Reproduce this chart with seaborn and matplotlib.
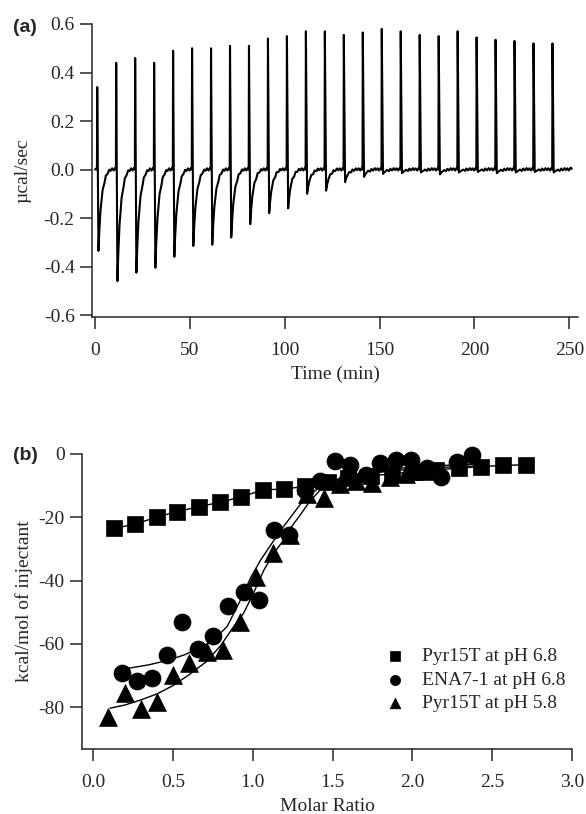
import numpy as np
import pandas as pd
import matplotlib
matplotlib.use("Agg")
import matplotlib.pyplot as plt
import seaborn as sns

# ---------------- panel (a): raw ITC thermogram ----------------
inj_time = [1, 11, 21, 31, 41, 51, 61, 71, 81, 91, 101, 111, 121, 131, 141,
            151, 161, 171, 181, 191, 201, 211, 221, 231, 241]
spike_top = [0.34, 0.44, 0.46, 0.44, 0.49, 0.50, 0.50, 0.51, 0.51, 0.54, 0.55,
             0.57, 0.57, 0.555, 0.565, 0.58, 0.57, 0.555, 0.55, 0.57, 0.545,
             0.535, 0.53, 0.52, 0.52]
dip_min = [-0.335, -0.46, -0.425, -0.405, -0.36, -0.315, -0.31, -0.28, -0.225,
           -0.18, -0.16, -0.10, -0.087, -0.052, -0.03, -0.018, -0.015, -0.012,
           -0.02, -0.012, -0.01, -0.015, -0.012, -0.01, -0.012]
# shape of one peak after the injection (min after injection, fraction of dip, baseline wiggle)
prof_off = [0.8, 1.3, 1.9, 3.0, 4.0, 4.7, 5.6, 6.5, 7.2, 8.0, 8.8, 9.4, 9.8]
prof_frac = [1.0, 0.74, 0.50, 0.26, 0.15, 0.09, 0.045, 0.02, 0.01, 0.0, 0.0, 0.0, 0.0]
prof_noise = [0, 0, 0, 0.003, -0.004, 0.005, -0.003, 0.006, -0.002, 0.005, -0.004, 0.004, 0.008]

# ---------------- panel (b): integrated heats ----------------
sq_x = [0.13, 0.263, 0.40, 0.525, 0.661, 0.797, 0.928, 1.065, 1.194, 1.33,
        1.47, 1.60, 1.74, 1.87, 2.01, 2.15, 2.29, 2.43, 2.57, 2.71]
sq_y = [-23.5, -22.2, -19.9, -18.2, -16.7, -15.2, -13.6, -11.3, -11.1, -10.2,
        -9.0, -7.5, -6.9, -6.3, -5.6, -5.0, -4.5, -4.0, -3.6, -3.4]

ci_x = [0.18, 0.275, 0.37, 0.466, 0.56, 0.657, 0.753, 0.848, 0.944, 1.04,
        1.135, 1.23, 1.326, 1.42, 1.517, 1.61, 1.708, 1.80, 1.90, 1.99,
        2.09, 2.18, 2.28, 2.376]
ci_y = [-69.1, -71.7, -70.9, -63.5, -53.0, -61.6, -57.6, -48.0, -43.5, -46.1,
        -24.0, -25.5, -11.4, -8.5, -2.2, -3.5, -6.5, -2.9, -1.9, -1.9,
        -4.5, -7.2, -2.4, -0.3]

tr_x = [0.096, 0.201, 0.299, 0.40, 0.504, 0.604, 0.713, 0.814, 0.918, 1.02,
        1.125, 1.236, 1.34, 1.445, 1.55, 1.65, 1.75, 1.86, 1.96, 2.07]
tr_y = [-83.0, -75.4, -80.7, -78.2, -69.8, -65.9, -62.5, -62.0, -53.0, -38.8,
        -31.4, -25.6, -12.5, -14.0, -9.5, -8.5, -9.3, -7.2, -6.2, -5.5]

fit_ci_x = [0.22, 0.35, 0.46, 0.57, 0.67, 0.76, 0.84, 0.92, 0.99, 1.05, 1.11,
            1.17, 1.24, 1.30, 1.36, 1.42, 1.50, 1.60, 1.75, 1.90, 2.05, 2.20, 2.38]
fit_ci_y = [-67.7, -66.6, -65.3, -63.5, -61.3, -58.5, -54.5, -46.5, -38.8, -33.5,
            -29.0, -24.5, -19.8, -15.8, -12.8, -10.5, -8.5, -6.8, -5.5, -4.6,
            -4.0, -3.6, -3.2]
fit_tr_x = [0.107, 0.2, 0.3, 0.4, 0.5, 0.6, 0.71, 0.8, 0.88, 0.943, 1.0, 1.07,
            1.13, 1.194, 1.25, 1.29, 1.35, 1.42, 1.5, 1.6, 1.75, 1.9, 2.05, 2.2, 2.38]
fit_tr_y = [-80.3, -79.3, -77.7, -75.8, -73.2, -69.8, -65.6, -60.5, -54.6, -50.3,
            -44.5, -36.7, -31.5, -27.2, -22.5, -19.8, -15.5, -11.5, -9.0, -7.3,
            -6.0, -5.2, -4.6, -4.2, -3.8]

labels = ["Pyr15T at pH 6.8", "ENA7-1 at pH 6.8", "Pyr15T at pH 5.8"]

# build the thermogram polyline from the read values
tt, pp = [0.0, 0.5], [0.0, 0.004]
for t0, top, dip in zip(inj_time, spike_top, dip_min):
    tt += [t0, t0 + 0.15]
    pp += [0.0, top]
    for off, fr, nz in zip(prof_off, prof_frac, prof_noise):
        tt.append(t0 + off)
        pp.append(dip * fr + nz)
tt.append(251.3)
pp.append(0.003)
trace = pd.DataFrame({"time": tt, "power": pp})

sns.set_style("ticks")
plt.rcParams["font.family"] = ["Liberation Serif", "DejaVu Serif"]
plt.rcParams["axes.unicode_minus"] = False
plt.rcParams["axes.linewidth"] = 1.1

fig = plt.figure(figsize=(5.86, 8.14), dpi=100)
W, H = 586, 814
ax_a = fig.add_axes([92 / W, 1 - 317 / H, (578 - 92) / W, (317 - 24) / H])
ax_b = fig.add_axes([82 / W, 1 - 749 / H, (572 - 82) / W, (749 - 454) / H])

sns.lineplot(data=trace, x="time", y="power", sort=False, estimator=None,
             color="black", lw=1.5, ax=ax_a)
ax_a.set_xlim(-1.6, 254.6)
ax_a.set_ylim(-0.608, 0.6)
ax_a.set_xticks([0, 50, 100, 150, 200, 250])
ax_a.set_yticks([-0.6, -0.4, -0.2, 0.0, 0.2, 0.4, 0.6])
ax_a.set_yticklabels([f"{v:.1f}" for v in [-0.6, -0.4, -0.2, 0.0, 0.2, 0.4, 0.6]])
ax_a.set_xlabel("Time (min)", fontsize=14, labelpad=5)
ax_a.set_ylabel("µcal/sec", fontsize=14, labelpad=9)

# panel (b)
sns.lineplot(x=sq_x, y=sq_y, color="black", lw=1.0, ax=ax_b, sort=False)
sns.lineplot(x=fit_ci_x, y=fit_ci_y, color="black", lw=1.0, ax=ax_b, sort=False)
sns.lineplot(x=fit_tr_x, y=fit_tr_y, color="black", lw=1.0, ax=ax_b, sort=False)
for xs, ys, mk, ms, lab in [(sq_x, sq_y, "s", 140, labels[0]),
                            (ci_x, ci_y, "o", 150, labels[1]),
                            (tr_x, tr_y, "^", 165, labels[2])]:
    sns.scatterplot(x=xs, y=ys, marker=mk, s=ms, color="black", edgecolor="black",
                    linewidth=0.5, ax=ax_b, label=lab, clip_on=False, zorder=3)
ax_b.set_xlim(-0.069, 3.0)
ax_b.set_ylim(-93.2, 0)
ax_b.set_xticks([0, 0.5, 1.0, 1.5, 2.0, 2.5, 3.0])
ax_b.set_xticklabels([f"{v:.1f}" for v in [0, 0.5, 1.0, 1.5, 2.0, 2.5, 3.0]])
ax_b.set_yticks([0, -20, -40, -60, -80])
ax_b.set_xlabel("Molar Ratio", fontsize=14, labelpad=5)
ax_b.set_ylabel("kcal/mol of injectant", fontsize=14, labelpad=4)
ax_b.legend(loc="center left", bbox_to_anchor=(0.619, 0.234), frameon=False,
            fontsize=14, markerscale=0.6, handlelength=1.0, handletextpad=0.9,
            labelspacing=0.3, borderpad=0, borderaxespad=0)

for ax in (ax_a, ax_b):
    sns.despine(ax=ax)
    ax.tick_params(direction="out", length=8.5, width=1.1, labelsize=14)
    ax.tick_params(axis="x", pad=9.5)
    ax.tick_params(axis="y", pad=4)

fig.text(13 / W, 1 - 27 / H, "(a)", fontsize=14, fontweight="bold",
         family=["Liberation Sans", "DejaVu Sans"], ha="left", va="center")
fig.text(13 / W, 1 - 455 / H, "(b)", fontsize=14, fontweight="bold",
         family=["Liberation Sans", "DejaVu Sans"], ha="left", va="center")

fig.savefig("out.png", dpi=100)
